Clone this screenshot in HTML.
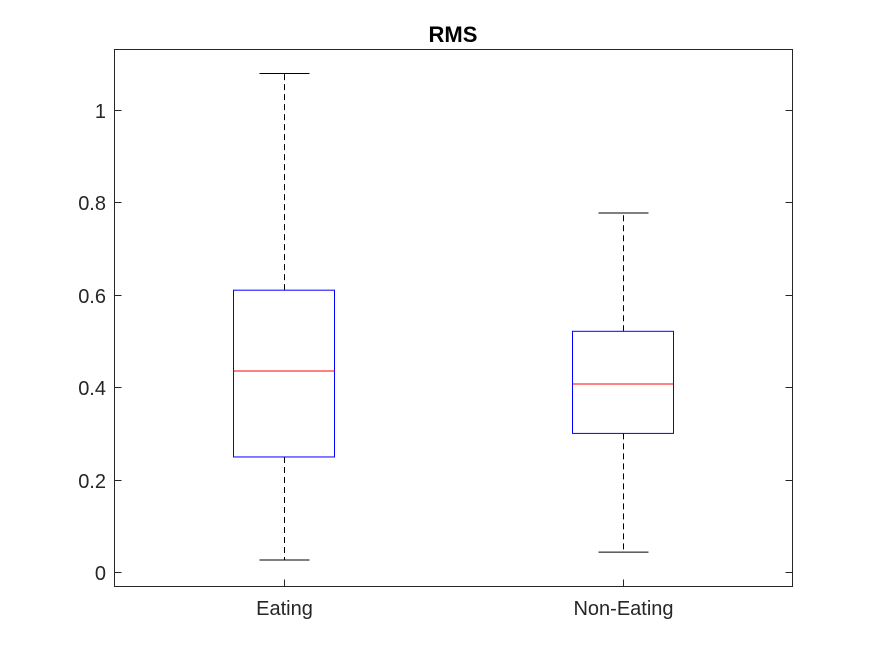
<!DOCTYPE html>
<html><head><meta charset="utf-8"><style>body{margin:0;background:#fff}svg{display:block}text{font-family:"Liberation Sans",sans-serif}</style></head>
<body>
<svg id="c" width="875" height="656">
<rect x="0" y="0" width="875" height="656" fill="#fff"/>
<rect x="114.5" y="49.5" width="678" height="537" fill="#fff" stroke="#262626" stroke-width="1"/>
<text x="453" y="42" text-anchor="middle" font-size="22" font-weight="bold" fill="#000">RMS</text>
<g id="ticks"></g>
<g id="boxes"></g>
</svg>
<script>
const categories=["Eating","Non-Eating"];
const lowerWhisker=[0.026,0.043];
const q1=[0.249,0.300];
const median=[0.435,0.407];
const q3=[0.610,0.521];
const upperWhisker=[1.079,0.777];
const yTicks=[0,0.2,0.4,0.6,0.8,1];
const yTickLabels=["0","0.2","0.4","0.6","0.8","1"];
const NS="http://www.w3.org/2000/svg";
const y=v=>572-v*462;
const x=i=>283.5+i*339.5;
function mk(t,a,p){const e=document.createElementNS(NS,t);for(const k in a)e.setAttribute(k,a[k]);p.appendChild(e);return e;}
const tg=document.getElementById('ticks');
yTicks.forEach((v,i)=>{
 const yy=Math.round(y(v))+0.5;
 let l=mk('line',{x1:114.5,x2:121.5,y1:yy,y2:yy,stroke:'#262626'},tg);
 
 
 l=mk('line',{x1:785.5,x2:792.5,y1:yy,y2:yy,stroke:'#262626'},tg);
 
 
 const t=mk('text',{x:106,y:yy+7.5,'text-anchor':'end','font-size':'20',fill:'#262626'},tg);
 t.textContent=yTickLabels[i];
 
 
});
const bg=document.getElementById('boxes');
categories.forEach((c,i)=>{
 const cx=Math.round(x(i))+0.5;
 let tk=mk('line',{x1:cx,x2:cx,y1:586.5,y2:579.5,stroke:'#262626'},tg);
 
 
 const t=mk('text',{x:cx,y:615,'text-anchor':'middle','font-size':'20',fill:'#262626'},tg);
 t.textContent=c;
 
 
 const g=mk('g',{},bg);
 
 
 const dash={stroke:'#000','stroke-dasharray':'6,4'};
 mk('line',Object.assign({x1:cx,x2:cx,y1:y(q3[i]),y2:y(upperWhisker[i])},dash),g);
 mk('line',Object.assign({x1:cx,x2:cx,y1:y(q1[i]),y2:y(lowerWhisker[i])},dash),g);
 mk('line',{x1:cx-25,x2:cx+25,y1:y(upperWhisker[i]),y2:y(upperWhisker[i]),stroke:'#000'},g);
 mk('line',{x1:cx-25,x2:cx+25,y1:y(lowerWhisker[i]),y2:y(lowerWhisker[i]),stroke:'#000'},g);
 mk('rect',{x:cx-51,y:y(q3[i]),width:101,height:y(q1[i])-y(q3[i]),fill:'none',stroke:'#0000ff'},g);
 mk('line',{x1:cx-51,x2:cx+50,y1:y(median[i]),y2:y(median[i]),stroke:'#ff0000'},g);
});
</script>
</body></html>
